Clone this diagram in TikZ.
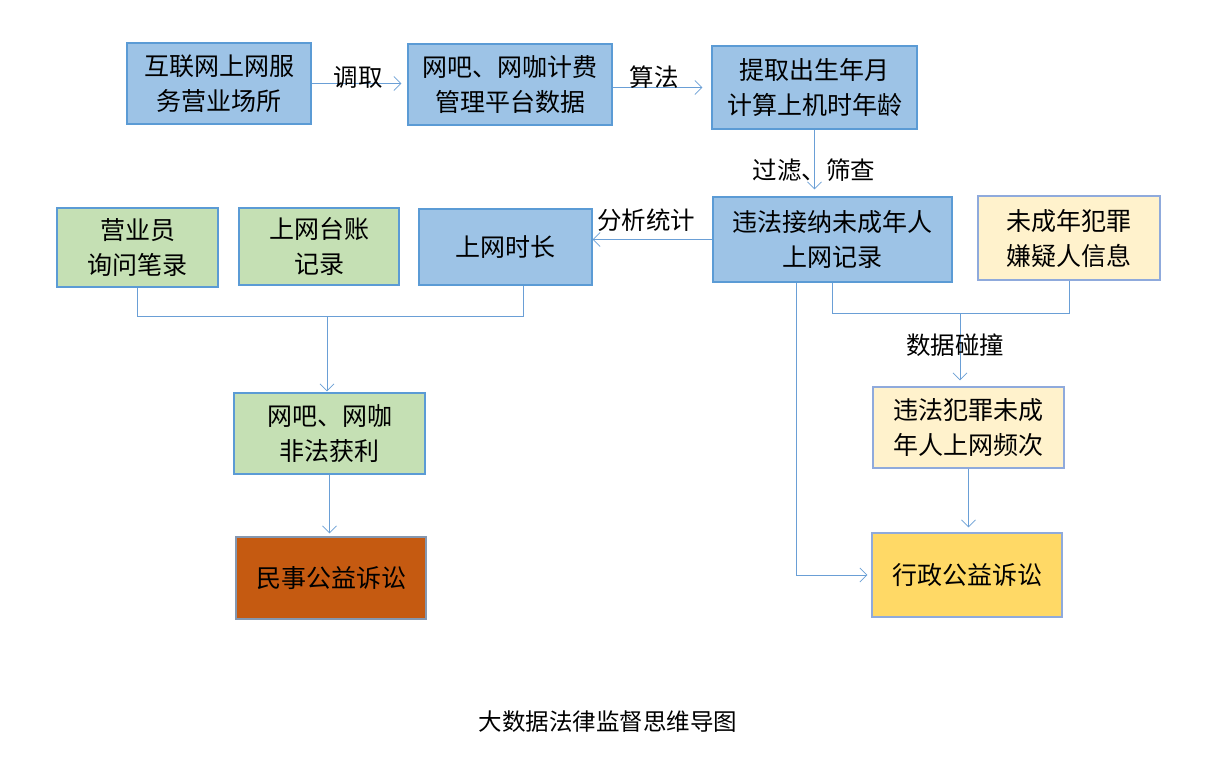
\documentclass[tikz,border=0pt]{standalone}
\usepackage{fontspec}
\setmainfont{Liberation Serif}
\newfontfamily\cjk{Noto Sans CJK SC}
\usepackage{xcolor}
\usetikzlibrary{arrows.meta}

\definecolor{boxblue}{HTML}{9DC3E6}
\definecolor{boxgreen}{HTML}{C5E0B4}
\definecolor{boxcream}{HTML}{FFF2CC}
\definecolor{boxgold}{HTML}{FFD966}
\definecolor{boxrust}{HTML}{C55A11}
\definecolor{edgeblue}{HTML}{5B9BD5}
\definecolor{edgesoft}{HTML}{8FAADC}
\definecolor{edgegray}{HTML}{8497B0}
\definecolor{linkblue}{HTML}{6A9FD6}

\tikzset{
  box/.style={draw=edgeblue, line width=1.1pt, inner sep=0pt, align=center,
    font=\cjk\fontsize{25}{35}\selectfont},
  bluebox/.style={box, fill=boxblue},
  greenbox/.style={box, fill=boxgreen},
  creambox/.style={box, fill=boxcream, draw=edgesoft},
  goldbox/.style={box, fill=boxgold, draw=edgesoft},
  rustbox/.style={box, fill=boxrust, draw=edgegray},
  link/.style={draw=linkblue, line width=0.8pt},
  arrow/.style={link, -{Straight Barb[length=7pt,width=14pt]}},
  tag/.style={inner sep=0pt, font=\cjk\fontsize{24.5}{30}\selectfont}
}

\begin{document}
\begin{tikzpicture}[x=1pt,y=-1pt]

\fill[white] (0,0) rectangle (1210,769);
\useasboundingbox (0,0) rectangle (1210,769);

% boxes
{
\node[bluebox, minimum width=184pt, minimum height=81pt] (site) at (219,83.5) {互联网上网服\\务营业场所};
\node[bluebox, minimum width=204pt, minimum height=81pt] (platform) at (510,84.5) {网吧、网咖计费\\管理平台数据};
\node[bluebox, minimum width=205pt, minimum height=83pt] (age) at (814.5,87.5) {提取出生年月\\计算上机时年龄};
\node[bluebox, minimum width=239pt, minimum height=85pt] (record) at (832.5,239.5) {违法接纳未成年人\\上网记录};
\node[creambox, minimum width=182pt, minimum height=84pt] (suspect) at (1069,238) {未成年犯罪\\嫌疑人信息};

\node[greenbox, minimum width=161pt, minimum height=79pt] (clerk) at (137.5,247.5) {营业员\\询问笔录};
\node[greenbox, minimum width=160pt, minimum height=77pt] (ledger) at (319,246.5) {上网台账\\记录};
\node[bluebox, minimum width=173pt, minimum height=76pt] (duration) at (505.5,247) {上网时长};

\node[greenbox, minimum width=191pt, minimum height=81pt] (profit) at (329.5,433.5) {网吧、网咖\\非法获利};
\node[rustbox, minimum width=190pt, minimum height=82pt] (civil) at (331,578) {民事公益诉讼};

\node[creambox, minimum width=191pt, minimum height=81pt] (freq) at (968.5,427.5) {违法犯罪未成\\年人上网频次};
\node[goldbox, minimum width=190pt, minimum height=84pt] (admin) at (967,575) {行政公益诉讼};
}

% arrows
{
\draw[arrow, shorten >=6pt] (site.east) -- (site.east -| platform.west);
\draw[arrow, shorten >=9pt] (age.west -| platform.east) -- (age.west);
\draw[arrow, shorten >=7pt] (age.south) -- (age.south |- record.north);
\draw[arrow] (record.west) -- (record.west -| duration.east);

\draw[link] (record.south) -- ++(0,31) -| (suspect.south);
\coordinate (hub) at (960,313);
\draw[arrow, shorten >=6pt] (hub) -- (hub |- freq.north);
\draw[arrow, shorten >=5pt] (freq.south) -- (freq.south |- admin.north);
\draw[arrow, shorten >=4pt] ([xshift=-36.5pt]record.south) |- (admin.west);

\draw[link] (clerk.south) -- ++(0,29) -| ([xshift=17.5pt]duration.south);
\coordinate (merge) at (327,316);
\draw[arrow, shorten >=1pt] (merge) -- (merge |- profit.north);
\draw[arrow, shorten >=3pt] (profit.south) -- (profit.south |- civil.north);
}

% labels
{
\node[tag] (pull) at (358,77) {调取};
\node[tag] (algo) at (654,77) {算法};
\node[tag] (filter) at (814,170) {过滤、筛查};
\node[tag] (stats) at (646,220) {分析统计};
\node[tag] (match) at (955,345) {数据碰撞};
}

\node[tag, font=\cjk\fontsize{23.5}{28}\selectfont] (caption) at (608,722) {大数据法律监督思维导图};

\end{tikzpicture}
\end{document}
